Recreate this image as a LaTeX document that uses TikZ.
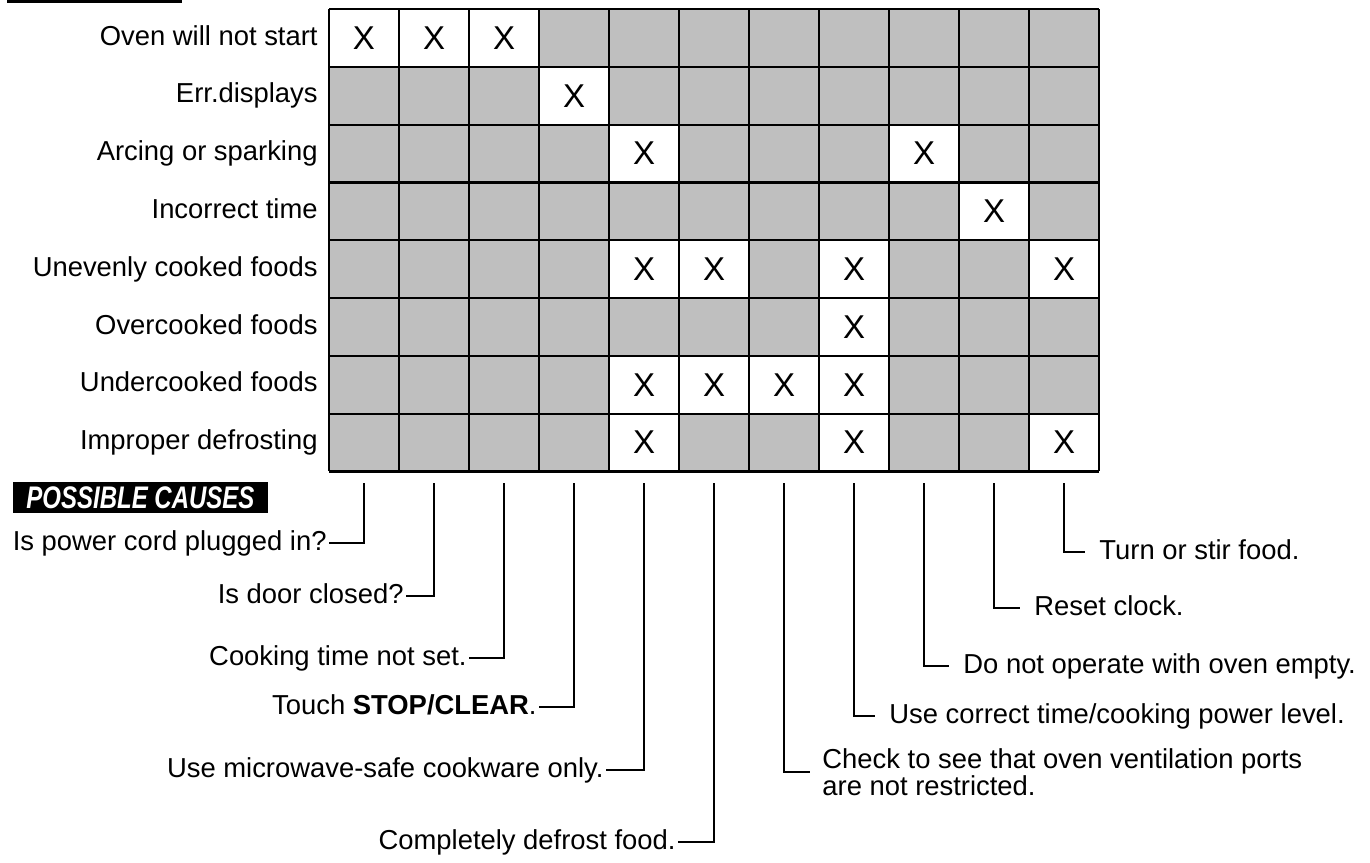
\documentclass[tikz,border=0pt]{standalone}
\usepackage{fontspec}
\setmainfont{Liberation Sans}
\usepackage{tikz}
\usetikzlibrary{positioning}
\colorlet{cellgray}{black!25}
\tikzset{symptom/.style={anchor=east, inner sep=1pt, text height=.72em, text depth=0pt},
  lcause/.style={anchor=east, inner sep=1pt, text height=.72em, text depth=0pt},
  rcause/.style={anchor=west, inner xsep=7pt, inner ysep=1pt, text height=.72em, text depth=0pt},
  xcell/.style={fill=white, inner sep=0pt, minimum width=35pt, minimum height=28.9pt,
    font=\fontsize{16.5}{18}\selectfont},
  gridline/.style={line width=1.1pt},
  lead/.style={line width=1.2pt}}

\begin{document}
\begin{tikzpicture}[x=0.5pt, y=-0.5pt,
    every node/.style={font=\fontsize{13.7}{16.5}\selectfont}]
    \useasboundingbox (0,0) rectangle (1370,862);
    \fill (7,0) rectangle (182,3);

    % chart
    \fill[cellgray] (329,9) rectangle (1099,471.4);
    \foreach \c/\r in {1/1,2/1,3/1,4/2,5/3,9/3,10/4,5/5,6/5,8/5,11/5,8/6,
                      5/7,6/7,7/7,8/7,5/8,8/8,11/8}
      \node[xcell] (x\c-\r) at ({294+70*\c},{-19.9+57.8*\r}) {X};
    \foreach \c in {0,...,11}
      \draw[gridline] ({329+70*\c},9) -- ({329+70*\c},471.4);
    \foreach \r in {0,...,8}
      \draw[gridline] (329,{9+57.8*\r}) -- (1099,{9+57.8*\r});

    \node[symptom] (s1) at (320,37.9) {Oven will not start};
    \node[symptom] (s2) at (320,95.7) {Err.displays};
    \node[symptom] (s3) at (320,153.5) {Arcing or sparking};
    \node[symptom] (s4) at (320,211.3) {Incorrect time};
    \node[symptom] (s5) at (320,269.1) {Unevenly cooked foods};
    \node[symptom] (s6) at (320,326.9) {Overcooked foods};
    \node[symptom] (s7) at (320,384.7) {Undercooked foods};
    \node[symptom] (s8) at (320,442.5) {Improper defrosting};

    \node[fill=black, text=white, inner sep=0pt, minimum width=127.5pt, minimum height=15.5pt,
      font=\bfseries\itshape\fontsize{12}{14}\selectfont] (pc) at (140.5,497.5)
      {\scalebox{1}[1.3]{POSSIBLE CAUSES}};

    % causes
    \foreach \c in {1,...,11}
      \coordinate (t\c) at ({294+70*\c},483);
    \node[lcause] (c1) at (329,543) {Is power cord plugged in?};
    \node[lcause] (c2) at (406,596) {Is door closed?};
    \node[lcause] (c3) at (469,658) {Cooking time not set.};
    \node[lcause] (c4) at (539,707) {Touch \textbf{STOP/CLEAR}.};
    \node[lcause] (c5) at (606,770) {Use microwave-safe cookware only.};
    \node[lcause] (c6) at (678,842) {Completely defrost food.};
    \node[anchor=west, inner xsep=6pt, inner ysep=0pt, align=left,
      font=\fontsize{13.7}{13.5}\selectfont] (c7) at (810,772)
      {Check to see that oven ventilation ports\\are not restricted.};
    \node[rcause] (c8) at (875,716) {Use correct time/cooking power level.};
    \node[rcause] (c9) at (949,666) {Do not operate with oven empty.};
    \node[rcause] (c10) at (1020,608) {Reset clock.};
    \node[rcause] (c11) at (1085,552) {Turn or stir food.};

    \foreach \c in {1,...,6}
      \draw[lead] (t\c) |- (c\c.east);
    \foreach \c in {7,...,11}
      \draw[lead] (t\c) |- (c\c.west);
  \end{tikzpicture}
\end{document}
